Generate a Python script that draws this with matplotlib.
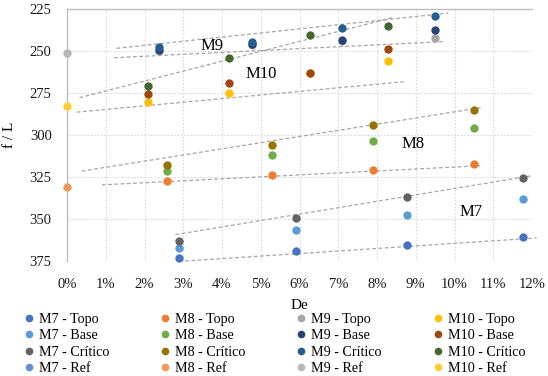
import numpy as np
import matplotlib
matplotlib.use("Agg")
import matplotlib.pyplot as plt
from matplotlib.ticker import FuncFormatter
from matplotlib.lines import Line2D

plt.rcParams['font.family'] = ['Liberation Serif', 'DejaVu Serif']

# ---------------- data (De in %, f/L) ----------------
groups = ["M7", "M8", "M9", "M10"]
series_names = ["Topo", "Base", "Crítico", "Ref"]

de_m7 = [2.89, 5.90, 8.78, 11.78]
de_m8 = [2.59, 5.28, 7.89, 10.50]
de_m9 = [2.38, 4.78, 7.09, 9.49]
de_m10 = [2.09, 4.19, 6.28, 8.28]

m7_topo = [373.4, 369.3, 365.2, 361.0]
m7_base = [367.0, 356.8, 347.4, 338.1]
m7_critico = [363.2, 349.2, 336.9, 325.3]
m8_topo = [327.3, 324.0, 320.7, 317.3]
m8_base = [321.5, 312.1, 303.8, 295.6]
m8_critico = [317.9, 306.2, 293.8, 285.4]
m9_topo = [250.0, 246.2, 244.0, 242.0]
m9_base = [249.4, 245.6, 243.2, 237.4]
m9_critico = [247.8, 244.8, 236.6, 229.4]
m10_topo = [280.4, 275.0, 263.0, 256.0]
m10_base = [275.8, 269.0, 262.8, 249.0]
m10_critico = [271.0, 254.4, 240.2, 235.0]

ref_de = 0.0
ref_values = [np.nan, 330.9, 251.4, 282.8]  # M7 ref not visible in range

# trend lines: (De start, f/L start, De end, f/L end)
trend_de_start = [2.80, 3.05, 0.38, 0.90, 1.28, 1.22, 0.32, 0.25]
trend_fl_start = [359.3, 375.0, 321.5, 329.7, 248.4, 254.0, 277.8, 286.4]
trend_de_end = [12.00, 12.12, 10.72, 10.66, 9.84, 9.71, 8.42, 8.72]
trend_fl_end = [324.2, 361.3, 283.6, 318.3, 227.4, 244.4, 230.0, 268.2]

label_text = ["M7", "M8", "M9", "M10"]
label_de = [10.44, 8.94, 3.73, 5.02]
label_fl = [345.6, 305.6, 247.2, 263.4]

x_ticks = list(range(0, 13))
y_ticks = [225, 250, 275, 300, 325, 350, 375]

colors = {
    "M7": ["#4472C4", "#5B9BD5", "#636363", "#698ED0"],
    "M8": ["#ED7D31", "#70AD47", "#997300", "#F1975A"],
    "M9": ["#A5A5A5", "#264478", "#255E91", "#B7B7B7"],
    "M10": ["#FFC000", "#9E480E", "#43682B", "#FFCD33"],
}

de_by_group = {"M7": de_m7, "M8": de_m8, "M9": de_m9, "M10": de_m10}
vals_by_group = {
    "M7": [m7_topo, m7_base, m7_critico],
    "M8": [m8_topo, m8_base, m8_critico],
    "M9": [m9_topo, m9_base, m9_critico],
    "M10": [m10_topo, m10_base, m10_critico],
}

# ---------------- figure ----------------
W, H = 548, 376
fig = plt.figure(figsize=(W / 100, H / 100), dpi=100)
L, R, T, B = 67, 532, 9, 261
ax = fig.add_axes([L / W, 1 - B / H, (R - L) / W, (B - T) / H])

grid_c = "#D9D9D9"
ax.set_xlim(0, 12)
ax.set_ylim(375, 225)
ax.set_xticks(x_ticks)
ax.set_yticks(y_ticks)
ax.xaxis.set_major_formatter(FuncFormatter(lambda v, p: f"{int(round(v))}%"))
ax.grid(True, color=grid_c, linestyle=(0, (1.5, 1.5)), linewidth=0.8)
ax.set_axisbelow(True)
ax.tick_params(length=0, labelsize=10.5, colors="#1a1a1a")
ax.tick_params(axis="x", pad=12)
ax.tick_params(axis="y", pad=11)
for s in ["left", "top"]:
    ax.spines[s].set_color("#BFBFBF")
    ax.spines[s].set_linewidth(1.0)
for s in ["right", "bottom"]:
    ax.spines[s].set_visible(False)

# trend lines
for xs, ys, xe, ye in zip(trend_de_start, trend_fl_start, trend_de_end, trend_fl_end):
    ax.plot([xs, xe], [ys, ye], color="#A6A6A6", linestyle=(0, (3, 2)),
            linewidth=0.9, zorder=2, clip_on=False)

# scatter series
ms = 6.0
for g in groups:
    for i, name in enumerate(series_names):
        if name == "Ref":
            xv, yv = [ref_de], [ref_values[groups.index(g)]]
        else:
            xv, yv = de_by_group[g], vals_by_group[g][i]
        ax.plot(xv, yv, linestyle="none", marker="o", markersize=ms,
                color=colors[g][i], markeredgewidth=0, zorder=3,
                clip_on=False, label=f"{g} - {name}")

for t, x, y in zip(label_text, label_de, label_fl):
    ax.text(x, y, t, fontsize=12, ha="center", va="center", color="#000000", zorder=4)

ax.set_xlabel("De", fontsize=11, labelpad=6)
ax.set_ylabel("f / L", fontsize=11, labelpad=10)

# legend: 4 columns, equal spacing
col_x = [25, 161, 297, 434]
for g, cx in zip(groups, col_x):
    lh = [Line2D([], [], linestyle="none", marker="o", markersize=5.5,
                 color=c, markeredgewidth=0) for c in colors[g]]
    fig.legend(lh, [f"{g} - {n}" for n in series_names],
               loc="upper left", bbox_to_anchor=(cx / W, 1 - 313 / H),
               frameon=False, fontsize=10.2, handlelength=0.6,
               handletextpad=0.4, labelspacing=0.24, borderaxespad=0,
               borderpad=0)

fig.savefig("out.png", dpi=100)
